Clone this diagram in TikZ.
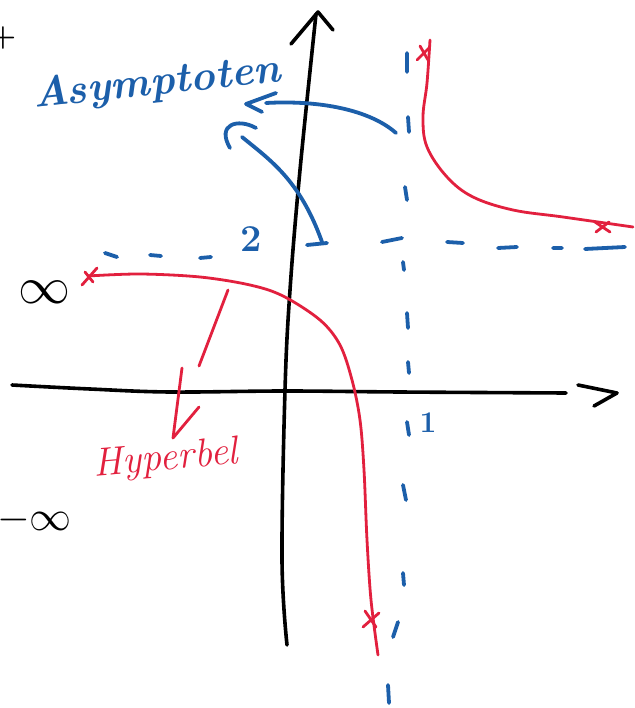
\documentclass[tikz,border=0pt]{standalone}
\usepackage{amsmath}
\usetikzlibrary{arrows.meta}
\definecolor{penblue}{RGB}{28,95,170}
\definecolor{penred}{RGB}{226,32,62}
\begin{document}
\begin{tikzpicture}[x=1pt,y=-1pt,
  blackpen/.style={line width=3.6pt,black,line cap=round,line join=round},
  bluepen/.style={line width=3.8pt,penblue,line cap=round,line join=round},
  redpen/.style={line width=2.8pt,penred,line cap=round,line join=round},
  hand/.style={inner sep=0pt}]
\useasboundingbox[fill=white] (0,0) rectangle (634,708);

% axes
\draw[blackpen] plot[smooth,tension=0.6] coordinates {(287,645)(282,560)(285,390)(290,290)(300,170)(316,14)};
\draw[blackpen] (291,44) -- (318,12) -- (333,30);
\draw[blackpen] plot[smooth,tension=0.6] coordinates {(12,385)(90,389)(170,392)(285,391)(400,392)(566,393)};
\draw[blackpen] (578,385) -- (617,393) -- (594,406);

% asymptotes (dashed, hand drawn)
\draw[bluepen] (407,53)--(407,72) (408,117)--(409,132) (405,187)--(407,200)
  (403,262)--(404,270) (407,313)--(408,328) (408,362)--(409,373)
  (407,422)--(409,435) (403,485)--(406,500) (403,573)--(404,585)
  (398,622)--(393,637) (388,685)--(389,703);
\draw[bluepen] (105,253)--(117,257) (150,255)--(161,256) (200,258)--(211,257)
  (307,245)--(327,243) (382,242)--(402,238) (447,242)--(463,243)
  (498,248)--(517,247) (553,248)--(562,248) (585,249)--(625,247);

% pointers to the asymptotes
\draw[bluepen] (396,133) .. controls (370,110) and (320,100) .. (266,103);
\draw[bluepen] (276,93) -- (246,104) -- (262,112);
\draw[bluepen] (322,242) .. controls (300,180) and (270,160) .. (242,137);
\draw[bluepen] (256,128) .. controls (238,118) and (216,124) .. (230,148);

% hyperbola
\draw[redpen] plot[smooth,tension=0.55] coordinates {(88,276)(140,274)(200,277)(250,285)(283,296)(320,320)(340,345)(352,380)(360,420)(364,470)(367,540)(371,600)(378,655)};
\draw[redpen] plot[smooth,tension=0.6] coordinates {(430,40)(427,83)(423,117)(427,147)(447,177)(473,197)(513,210)(563,217)(633,227)};
\draw[redpen] (82,285)--(97,268) (85,272)--(93,282);
\draw[redpen] (363,627)--(379,613) (365,611)--(376,627);
\draw[redpen] (417,60)--(430,47) (420,46)--(428,60);
\draw[redpen] (595,222)--(610,232) (596,232)--(609,222);
% pointer to the hyperbola
\draw[redpen] (228,290)--(199,366);
\draw[redpen] (182,368)--(173,438)--(199,407);

% labels
\node[hand,text=penblue,font=\bfseries\itshape\fontsize{42}{42}\selectfont,rotate=6] (asy) at (157,84) {Asymptoten};
\node[hand,text=penred,font=\itshape\fontsize{40}{40}\selectfont,rotate=5] (hyp) at (166,460) {Hyperbel};
\node[hand,text=penblue,font=\bfseries\fontsize{38}{38}\selectfont] (two) at (251,239) {2};
\node[hand,text=penblue,font=\bfseries\fontsize{30}{30}\selectfont] (one) at (428,423) {1};
\node[hand] (pinf) at (44,292) {\scalebox{5.2}{$\infty$}};
\node[hand,anchor=east] (minf) at (72,520) {\scalebox{4.2}{$-\infty$}};
\node[hand,font=\bfseries\fontsize{30}{30}\selectfont] (plus) at (3,38) {+};
\end{tikzpicture}
\end{document}
